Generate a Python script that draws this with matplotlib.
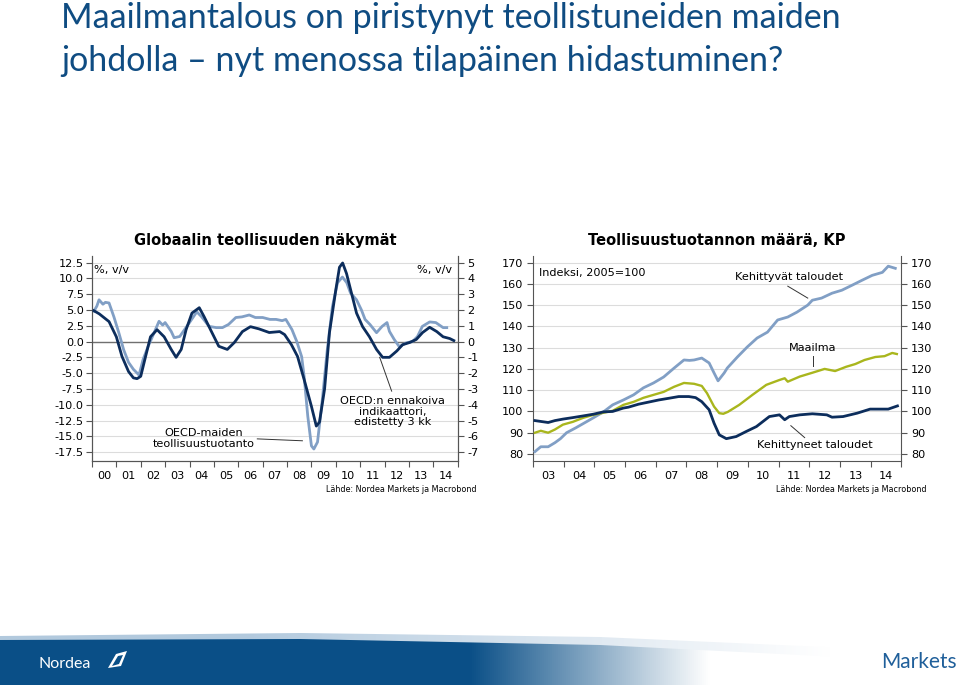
import numpy as np
import matplotlib
matplotlib.use("Agg")
import matplotlib.pyplot as plt
from matplotlib.patches import Polygon

# ── Data: left chart (y/y %, OECD) ─────────────────────────────────────
ip_years = [2000.08, 2000.2, 2000.29, 2000.45, 2000.55, 2000.7, 2000.9, 2001.1, 2001.3,
            2001.5, 2001.7, 2001.93, 2002.1, 2002.3, 2002.55, 2002.75, 2002.9, 2003.0,
            2003.25, 2003.37, 2003.6, 2003.8, 2004.0, 2004.3, 2004.5, 2004.8, 2005.1,
            2005.35, 2005.6, 2005.9, 2006.15, 2006.45, 2006.7, 2007.0, 2007.3, 2007.55,
            2007.8, 2007.95, 2008.2, 2008.4, 2008.6, 2008.7, 2008.85, 2009.0, 2009.1,
            2009.25, 2009.45, 2009.65, 2009.86, 2010.07, 2010.27, 2010.45, 2010.6,
            2010.85, 2011.05, 2011.2, 2011.4, 2011.67, 2011.9, 2012.1, 2012.2, 2012.4,
            2012.6, 2012.9, 2013.15, 2013.35, 2013.55, 2013.85, 2014.1, 2014.4, 2014.55]
ip_values = [4.8, 5.6, 6.6, 5.9, 6.2, 6.1, 3.9, 1.4, -1.3,
             -3.3, -4.4, -5.3, -2.8, -0.8, 1.4, 3.2, 2.6, 3.0,
             1.6, 0.6, 0.8, 1.9, 3.0, 4.7, 3.9, 2.4, 2.2,
             2.2, 2.7, 3.8, 3.9, 4.2, 3.8, 3.8, 3.5, 3.5,
             3.3, 3.5, 1.9, 0.0, -2.4, -5.5, -11.8, -16.5, -17.0,
             -15.9, -9.1, -1.3, 5.5, 9.3, 10.2, 9.3, 7.7,
             6.6, 5.0, 3.5, 2.7, 1.4, 2.4, 3.0, 1.6, 0.3,
             -0.8, -0.2, 0.0, 0.8, 2.4, 3.1, 3.0, 2.2, 2.2]

cli_years = [2000.08, 2000.3, 2000.7, 2001.0, 2001.23, 2001.5, 2001.7, 2001.85, 2002.0,
             2002.2, 2002.4, 2002.67, 2002.96, 2003.25, 2003.45, 2003.66, 2003.86, 2004.1,
             2004.4, 2004.6, 2004.9, 2005.2, 2005.55, 2005.84, 2006.17, 2006.5, 2006.85,
             2007.27, 2007.7, 2007.9, 2008.18, 2008.43, 2008.7, 2009.0, 2009.2, 2009.33,
             2009.54, 2009.74, 2010.0, 2010.15, 2010.28, 2010.44, 2010.64, 2010.85, 2011.1,
             2011.38, 2011.67, 2011.92, 2012.2, 2012.5, 2012.74, 2013.03, 2013.3, 2013.56,
             2013.85, 2014.14, 2014.4, 2014.67, 2014.84]
cli_values = [1.95, 1.75, 1.26, 0.3, -0.94, -1.9, -2.3, -2.35, -2.2,
              -0.94, 0.3, 0.75, 0.3, -0.5, -1.0, -0.5, 0.75, 1.8,
              2.14, 1.57, 0.63, -0.3, -0.5, -0.06, 0.63, 0.94, 0.8,
              0.57, 0.63, 0.44, -0.2, -0.94, -2.4, -4.1, -5.35, -5.1,
              -3.0, 0.57, 3.27, 4.7, 4.97, 4.3, 3.08, 1.8, 0.94,
              0.3, -0.5, -1.0, -1.0, -0.6, -0.2, -0.06, 0.13, 0.57,
              0.9, 0.63, 0.3, 0.19, 0.06]

left_years = list(range(2000, 2015))
left_labels = ["00", "01", "02", "03", "04", "05", "06", "07", "08", "09",
               "10", "11", "12", "13", "14"]
left_yticks = [12.5, 10.0, 7.5, 5.0, 2.5, 0.0, -2.5, -5.0, -7.5, -10.0, -12.5, -15.0, -17.5]
right_yticks = [5, 4, 3, 2, 1, 0, -1, -2, -3, -4, -5, -6, -7]

# ── Data: right chart (index 2005=100) ────────────────────────────────
em_years = [2003.07, 2003.26, 2003.5, 2003.72, 2003.9, 2004.1, 2004.4, 2004.74, 2004.97,
            2005.3, 2005.6, 2005.95, 2006.28, 2006.6, 2006.93, 2007.26, 2007.6, 2007.92,
            2008.1, 2008.25, 2008.5, 2008.74, 2008.9, 2009.03, 2009.23, 2009.33, 2009.66,
            2009.98, 2010.3, 2010.64, 2010.97, 2011.3, 2011.6, 2011.95, 2012.1, 2012.4,
            2012.74, 2013.06, 2013.4, 2013.72, 2014.05, 2014.38, 2014.57, 2014.8]
em_values = [81.1, 83.4, 83.4, 85.3, 87.2, 90.0, 92.3, 95.1, 97.0,
             99.8, 103.1, 105.4, 107.8, 111.1, 113.4, 116.2, 120.4, 124.2,
             124.0, 124.2, 125.1, 122.8, 118.1, 114.4, 118.1, 120.4, 125.6,
             130.3, 134.5, 137.3, 143.0, 144.4, 146.7, 150.0, 152.3, 153.3,
             155.6, 157.0, 159.4, 161.7, 164.0, 165.4, 168.3, 167.3]

world_years = [2003.07, 2003.26, 2003.5, 2003.72, 2003.98, 2004.3, 2004.64, 2004.97, 2005.3,
               2005.6, 2005.95, 2006.28, 2006.6, 2006.93, 2007.26, 2007.6, 2007.92, 2008.25,
               2008.5, 2008.67, 2008.9, 2009.07, 2009.2, 2009.35, 2009.72, 2010.15, 2010.6,
               2011.03, 2011.2, 2011.3, 2011.69, 2012.1, 2012.5, 2012.84, 2013.2, 2013.5,
               2013.8, 2014.15, 2014.45, 2014.7, 2014.85]
world_values = [90.0, 90.9, 90.0, 91.5, 93.8, 95.1, 97.0, 98.4, 99.4,
                100.3, 103.1, 104.5, 106.4, 107.8, 109.2, 111.6, 113.4, 113.0,
                112.0, 108.6, 102.3, 99.2, 98.9, 99.8, 103.1, 107.8, 112.5,
                114.8, 115.6, 114.0, 116.4, 118.2, 120.0, 119.0, 121.0, 122.3,
                124.2, 125.6, 126.0, 127.5, 127.0]

dev_years = [2003.07, 2003.26, 2003.5, 2003.72, 2003.98, 2004.3, 2004.64, 2004.97, 2005.3,
             2005.6, 2005.95, 2006.11, 2006.44, 2006.77, 2007.1, 2007.43, 2007.75, 2008.08,
             2008.3, 2008.5, 2008.74, 2008.9, 2009.07, 2009.3, 2009.62, 2009.95, 2010.28,
             2010.7, 2011.03, 2011.2, 2011.35, 2011.69, 2012.1, 2012.57, 2012.74, 2013.1,
             2013.56, 2013.98, 2014.3, 2014.57, 2014.87]
dev_values = [95.7, 95.3, 94.8, 95.7, 96.4, 97.1, 97.9, 98.7, 99.8,
              100.0, 101.6, 102.0, 103.4, 104.4, 105.4, 106.2, 107.0, 107.0,
              106.5, 104.6, 100.8, 94.5, 89.0, 87.2, 88.2, 90.6, 92.9,
              97.6, 98.4, 96.1, 97.6, 98.4, 98.9, 98.4, 97.3, 97.6,
              99.2, 101.1, 101.1, 101.1, 102.6]

right_years = list(range(2003, 2015))
right_labels = ["03", "04", "05", "06", "07", "08", "09", "10", "11", "12", "13", "14"]
index_ticks = [170, 160, 150, 140, 130, 120, 110, 100, 90, 80]

# ── Style ─────────────────────────────────────────────────────────────
LIGHT = "#819fc5"
NAVY = "#0c2d5c"
OLIVE = "#a9b61d"
TITLE_BLUE = "#0f4c82"
GRID = "#dcdcdc"
SPINE = "#555555"
FS = 8.1
LW = 2.0

plt.rcParams["font.family"] = "DejaVu Sans"
fig = plt.figure(figsize=(9.6, 6.85), dpi=100)


def style_axis(ax, year_list, labels, x0, x1):
    ax.set_xlim(x0, x1)
    ax.set_xticks(list(year_list) + [x1])
    ax.set_xticklabels([])
    ax.set_xticks([y + 0.5 for y in year_list], minor=True)
    ax.set_xticklabels(labels, minor=True, fontsize=FS)
    ax.tick_params(axis="x", which="major", direction="out", length=4, color=SPINE)
    ax.tick_params(axis="x", which="minor", length=0, pad=7)
    ax.spines["top"].set_visible(False)
    for side in ("left", "right", "bottom"):
        ax.spines[side].set_color(SPINE)
        ax.spines[side].set_linewidth(0.8)


# ── Left chart ────────────────────────────────────────────────────────
axL = fig.add_axes([0.0958, 0.327, 0.381, 0.299])
style_axis(axL, left_years, left_labels, 2000, 2015)
lo, hi = -18.9, 13.5
axL.set_ylim(lo, hi)
axL.set_yticks(left_yticks)
axL.set_yticklabels([f"{v:.1f}" for v in left_yticks], fontsize=FS)
axL.tick_params(axis="y", direction="out", length=4, color=SPINE, pad=2)
for v in left_yticks:
    axL.axhline(v, color=GRID, lw=0.8, zorder=0)
axL.axhline(0, color="#707070", lw=1.0, zorder=1)
axL.plot(ip_years, ip_values, color=LIGHT, lw=LW, zorder=3)

axL2 = axL.twinx()
axL2.set_ylim(lo / 2.5, hi / 2.5)
axL2.set_yticks(right_yticks)
axL2.set_yticklabels([str(v) for v in right_yticks], fontsize=FS)
axL2.tick_params(axis="y", direction="out", length=4, color=SPINE, pad=3)
axL2.spines["top"].set_visible(False)
for side in ("left", "right", "bottom"):
    axL2.spines[side].set_color(SPINE)
    axL2.spines[side].set_linewidth(0.8)
axL2.plot(cli_years, cli_values, color=NAVY, lw=LW, zorder=4)

axL.text(2000.1, 11.3, "%, v/v", fontsize=FS, va="center", ha="left")
axL.text(2014.75, 11.3, "%, v/v", fontsize=FS, va="center", ha="right")
axL.text(2004.6, -15.4, "OECD-maiden\nteollisuustuotanto", fontsize=FS,
         ha="center", va="center", linespacing=1.1)
axL.plot([2006.78, 2008.63], [-15.4, -15.7], color="#333333", lw=0.7)
axL.text(2012.33, -11.1, "OECD:n ennakoiva\nindikaattori,\nedistetty 3 kk",
         fontsize=FS, ha="center", va="center", linespacing=1.1)
axL.plot([2011.8, 2012.29], [-2.5, -7.85], color="#333333", lw=0.7)

fig.text(0.276, 0.649, "Globaalin teollisuuden näkymät", fontsize=10.5,
         fontweight="bold", ha="center", va="center")
fig.text(0.496, 0.285, "Lähde: Nordea Markets ja Macrobond", fontsize=5.8,
         ha="right", va="center")

# ── Right chart ───────────────────────────────────────────────────────
axR = fig.add_axes([0.555, 0.327, 0.384, 0.299])
style_axis(axR, right_years, right_labels, 2003, 2015)
axR.set_ylim(76.7, 173)
axR.set_yticks(index_ticks)
axR.set_yticklabels([str(v) for v in index_ticks], fontsize=FS)
axR.tick_params(axis="y", direction="out", length=4, color=SPINE,
                labelleft=True, labelright=True, left=True, right=True, pad=3)
for v in index_ticks:
    axR.axhline(v, color=GRID, lw=0.8, zorder=0)
axR.plot(em_years, em_values, color=LIGHT, lw=LW, zorder=3)
axR.plot(world_years, world_values, color=OLIVE, lw=1.7, zorder=3)
axR.plot(dev_years, dev_values, color=NAVY, lw=LW, zorder=4)

axR.text(2003.2, 165, "Indeksi, 2005=100", fontsize=FS, ha="left", va="center")
axR.text(2011.33, 163.1, "Kehittyvät taloudet", fontsize=FS, ha="center", va="center")
axR.plot([2011.3, 2011.95], [158.9, 153.3], color="#333333", lw=0.7)
axR.text(2012.11, 129.8, "Maailma", fontsize=FS, ha="center", va="center")
axR.plot([2012.11, 2012.11], [126.1, 121.4], color="#333333", lw=0.7)
axR.text(2012.18, 84.4, "Kehittyneet taloudet", fontsize=FS, ha="center", va="center")
axR.plot([2011.4, 2011.85], [93.3, 87.7], color="#333333", lw=0.7)

fig.text(0.7465, 0.649, "Teollisuustuotannon määrä, KP", fontsize=10.5,
         fontweight="bold", ha="center", va="center")
fig.text(0.965, 0.285, "Lähde: Nordea Markets ja Macrobond", fontsize=5.8,
         ha="right", va="center")

# ── Slide title ───────────────────────────────────────────────────────
fig.text(0.064, 0.973, "Maailmantalous on piristynyt teollistuneiden maiden",
         fontsize=24.5, family="Lato", color=TITLE_BLUE, ha="left", va="center")
fig.text(0.064, 0.911, "johdolla – nyt menossa tilapäinen hidastuminen?",
         fontsize=24.5, family="Lato", color=TITLE_BLUE, ha="left", va="center")

# ── Footer banner ─────────────────────────────────────────────────────
axB = fig.add_axes([0, 0, 1, 60 / 685])
axB.set_xlim(0, 960)
axB.set_ylim(0, 60)
axB.axis("off")
xs = np.linspace(0, 960, 480)
fade = np.clip((xs - 470) / 240, 0, 1)
dark = np.array([0.04, 0.31, 0.53])
band = (1 - fade)[:, None] * dark + fade[:, None] * np.ones(3)
img = np.tile(band[None, :, :], (2, 1, 1))
fade2 = np.clip((xs - 250) / 580, 0, 1)
pale = np.array([0.70, 0.79, 0.87])
stripe = (1 - fade2)[:, None] * pale + fade2[:, None] * np.ones(3)
img2 = np.tile(stripe[None, :, :], (2, 1, 1))
im2 = axB.imshow(img2, extent=[0, 960, 0, 60], aspect="auto", zorder=1)
clip2 = Polygon([[0, 0], [0, 49], [300, 52], [600, 48], [960, 32], [960, 0]],
                closed=True, transform=axB.transData, facecolor="none", edgecolor="none")
axB.add_patch(clip2)
im2.set_clip_path(clip2)
im = axB.imshow(img, extent=[0, 960, 0, 60], aspect="auto", zorder=2)
clip = Polygon([[0, 0], [0, 45], [300, 46], [600, 40], [960, 22], [960, 0]],
               closed=True, transform=axB.transData, facecolor="none", edgecolor="none")
axB.add_patch(clip)
im.set_clip_path(clip)
axB.text(39, 21, "Nordea", color="white", fontsize=11.5, family="Lato",
         ha="left", va="center", zorder=3)
axB.add_patch(Polygon([[108, 17], [116, 31], [127, 34], [121, 19]], closed=True,
                      facecolor="white", edgecolor="none", zorder=3))
axB.add_patch(Polygon([[112, 19], [118, 29], [123, 30], [119, 21]], closed=True,
                      facecolor="#0a4f87", edgecolor="none", zorder=4))
axB.text(957, 23, "Markets", color="#1f5f9a", fontsize=15, family="Lato",
         ha="right", va="center", zorder=3)

fig.savefig("out.png", dpi=100)
